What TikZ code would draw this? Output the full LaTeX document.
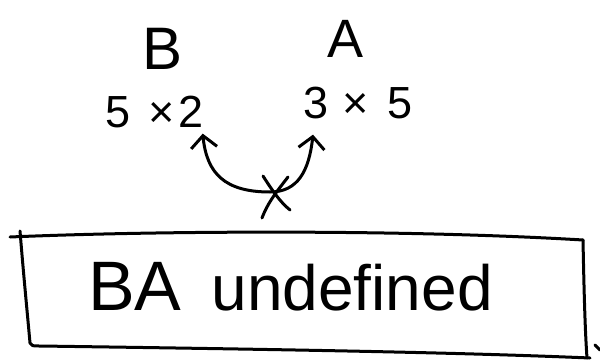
\documentclass[tikz,border=0pt]{standalone}
\usepackage{fontspec}
\setmainfont{Liberation Sans}
\usetikzlibrary{arrows.meta}
\tikzset{
  ink/.style={line width=3pt, line cap=round, line join=round, black},
  lbl/.style={inner sep=0pt, anchor=base west, text=black},
  barb/.tip={Straight Barb[length=12pt,width=26pt,line width=3pt]},
}
\begin{document}
\begin{tikzpicture}[x=1pt,y=-1pt]
\useasboundingbox (0,0) rectangle (600,361);
% matrix labels
\node[lbl, font=\fontsize{60}{60}\selectfont] (B) at (142,70) {B};
\node[lbl, font=\fontsize{54}{54}\selectfont] (A) at (327,58) {A};
\node[lbl, font=\fontsize{45}{45}\selectfont] (dimB) at (105,127) {5\hspace{18pt}×\hspace{4pt}2};
\node[lbl, font=\fontsize{45}{45}\selectfont] (dimA) at (303,118) {3\hspace{14pt}×\hspace{19pt}5};
% crossed-out double arrow
\coordinate (low) at (270,192);
\draw[ink, barb-barb]
  ([xshift=-1pt,yshift=-6pt]dimB.south east)
  .. controls +(4,40) and +(-45,0) .. (low)
  .. controls +(28,0) and +(-4,36) .. ([xshift=10pt,yshift=-16pt]dimA.south west);
\draw[ink] (263,176) .. controls (272,190) and (280,202) .. (290,210);
\draw[ink] (288,177) .. controls (278,190) and (268,202) .. (262,218);
% box
\draw[ink] (10,237) .. controls (150,231) and (400,229) .. (583,240);
\draw[ink] (20,231) .. controls (24,280) and (28,320) .. (30,343) .. controls (31,346) and (33,346) .. (40,346)
  .. controls (250,349) and (450,352) .. (590,358);
\draw[ink] (583,240) .. controls (584,290) and (585,330) .. (587,358);
\draw[ink] (595,345) -- (600,350);
% text
\node[lbl] (txt) at (88,310) {\fontsize{70}{70}\selectfont BA\hspace{30pt}\fontsize{64}{64}\selectfont undefined};
\end{tikzpicture}
\end{document}
